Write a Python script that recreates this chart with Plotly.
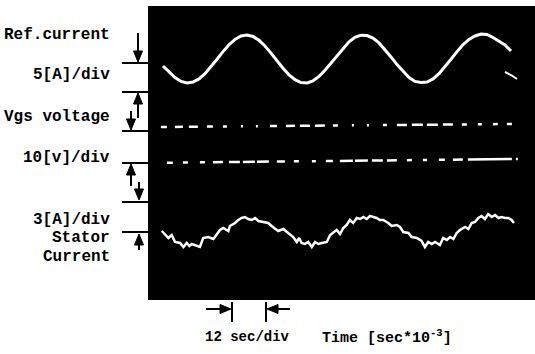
import plotly.graph_objects as go

# ---------------- data (time in ms, amplitude in screen divisions*10) ----------------
ref_t = [5, 7, 9, 11, 13, 15, 17, 19, 21, 23, 25, 27, 29, 31, 33, 35, 37, 39, 41, 43,
         45, 47, 49, 51, 53, 55, 57, 59, 61, 63, 65, 67, 69, 71, 73, 75, 77, 79, 81, 83,
         85, 87, 89, 91, 93, 95, 97, 99, 101, 103, 105, 107, 109, 111, 113, 115, 117, 119, 121]
ref_i = [23.4, 22.8, 22.25, 21.86, 21.7, 21.79, 22.11, 22.64, 23.32, 24.08, 24.84, 25.53,
         26.06, 26.4, 26.5, 26.35, 25.97, 25.4, 24.69, 23.92, 23.18, 22.52, 22.03, 21.75,
         21.71, 21.92, 22.36, 22.97, 23.7, 24.47, 25.2, 25.82, 26.26, 26.48, 26.45, 26.19,
         25.71, 25.06, 24.31, 23.54, 22.84, 22.25, 21.86, 21.75, 21.79, 22.11, 22.64, 23.32,
         24.08, 24.84, 25.53, 26.06, 26.4, 26.6, 26.55, 26.25, 25.9, 25.5, 24.9]
glitch_t = [119, 121, 123]
glitch_i = [22.8, 22.5, 22.1]

vgs_t = [4.3, 121.3]
vgs_v = [17.3, 17.6]

gate_t = [6.3, 123.3]
gate_v = [13.73, 14.1]

stator_t = [4.6, 6.2, 6.8, 7.9, 9.0, 10.7, 11.8, 12.9, 13.8, 14.6, 15.7, 17.3, 18.4, 20.1,
            21.8, 22.9, 24.0, 25.1, 26.8, 27.3, 29.0, 30.1, 31.2, 32.3, 33.4, 34.6, 35.7,
            36.8, 38.4, 40.1, 41.2, 42.3, 43.4, 45.1, 46.2, 47.3, 48.4, 49.6, 50.4, 51.2,
            52.3, 53.4, 54.6, 55.7, 56.8, 57.9, 59.6, 60.7, 61.8, 62.9, 64.0, 65.1, 66.2,
            67.3, 68.4, 69.6, 70.7, 71.8, 72.9, 74.0, 75.1, 76.2, 77.3, 78.4, 80.1, 81.2,
            82.9, 84.0, 85.1, 86.8, 87.9, 89.6, 91.2, 92.3, 93.4, 94.6, 95.7, 97.3, 98.4,
            99.6, 100.7, 101.8, 102.9, 104.0, 105.7, 106.8, 107.9, 109.0, 110.1, 111.2,
            112.3, 113.4, 114.6, 115.7, 116.8, 117.9, 119.0, 120.1, 121.2, 122.0]
stator_i = [6.9, 6.4, 6.2, 6.5, 5.8, 5.7, 5.3, 5.7, 5.4, 5.6, 5.5, 5.3, 6.2, 6.3,
            6.1, 6.6, 7.0, 7.2, 6.9, 7.4, 7.7, 8.0, 8.2, 8.3, 8.1, 8.0, 8.2,
            7.9, 7.8, 7.7, 7.4, 7.1, 6.9, 7.1, 6.8, 6.5, 6.3, 5.8, 6.2, 5.7,
            5.6, 5.8, 5.3, 5.8, 5.6, 5.7, 5.8, 6.5, 6.8, 7.0, 6.6, 7.2, 7.5,
            8.0, 7.7, 8.2, 8.1, 8.3, 8.1, 8.4, 8.3, 8.2, 8.0, 8.0, 7.7, 7.4,
            7.5, 7.3, 6.8, 6.7, 6.3, 6.2, 5.9, 5.3, 5.8, 5.6, 5.8, 5.5, 6.2,
            6.0, 6.3, 6.1, 6.7, 7.0, 7.3, 7.1, 7.7, 7.8, 8.2, 8.4,
            8.1, 8.6, 8.3, 8.5, 8.2, 8.3, 8.2, 8.2, 8.0, 7.7]

left_labels = ["Ref.current", "5[A]/div", "Vgs voltage", "10[v]/div", "3[A]/div", "Stator", "Current"]
x_label = "Time [sec*10<sup>-3</sup>]"
scale_label = "12 sec/div"

# ---------------- figure ----------------
W, H = 535, 354
def px(x):
    return x / W
def py(y):
    return 1 - y / H

fig = go.Figure()
fig.add_trace(go.Scatter(x=ref_t, y=ref_i, mode="lines", line=dict(color="white", width=3), hoverinfo="skip"))
fig.add_trace(go.Scatter(x=glitch_t, y=glitch_i, mode="lines", line=dict(color="white", width=2), hoverinfo="skip"))
fig.add_trace(go.Scatter(x=vgs_t, y=vgs_v, mode="lines",
                         line=dict(color="white", width=2.5,
                                   dash="6px,8px,8px,6px,9px,9px,6px,10px,4px,14px,2px,13px,2px,12px,7px,9px,9px,5px,10px,5px,10px,8px,5px,14px,2px,13px,2px,14px,4px,10px,10px,5px,11px,4px,11px,5px,10px,9px,5px,11px,4px,11px,5px,9px,5px,20px"),
                         hoverinfo="skip"))
fig.add_trace(go.Scatter(x=gate_t, y=gate_v, mode="lines",
                         line=dict(color="white", width=2.5,
                                   dash="6px,10px,5px,12px,5px,8px,10px,6px,11px,3px,12px,2px,12px,8px,8px,9px,5px,13px,4px,10px,7px,7px,13px,2px,13px,4px,11px,4px,10px,10px,5px,11px,4px,12px,6px,8px,10px,5px,44px,4px,2px,10px"),
                         hoverinfo="skip"))
fig.add_trace(go.Scatter(x=stator_t, y=stator_i, mode="lines", line=dict(color="white", width=2.5), hoverinfo="skip"))

shapes = []
def hline(x0, x1, y):
    shapes.append(dict(type="line", xref="paper", yref="paper", x0=px(x0), x1=px(x1), y0=py(y), y1=py(y),
                       line=dict(color="black", width=2)))
def vline(x, y0, y1):
    shapes.append(dict(type="line", xref="paper", yref="paper", x0=px(x), x1=px(x), y0=py(y0), y1=py(y1),
                       line=dict(color="black", width=2)))
def tri(p1, p2, p3):
    path = "M {},{} L {},{} L {},{} Z".format(px(p1[0]), py(p1[1]), px(p2[0]), py(p2[1]), px(p3[0]), py(p3[1]))
    shapes.append(dict(type="path", xref="paper", yref="paper", path=path,
                       fillcolor="black", line=dict(color="black", width=1)))

# tick marks left of the panel
for yy in [63, 92, 131, 163, 202, 232]:
    hline(122, 148, yy)

# vertical arrows (x, tip, tail)
HL, HW = 11, 4.5
def varrow(x, tip, tail):
    d = 1 if tail < tip else -1  # +1: pointing down
    base = tip - d * HL
    vline(x, tail, base)
    tri((x, tip), (x - HW, base), (x + HW, base))

varrow(138, 62, 33)
varrow(138, 93, 118)
varrow(131, 130, 111)
varrow(131, 164, 186)
varrow(139, 200, 182)
varrow(139, 234, 250)

# bottom scale bars and arrows
vline(232, 302, 322)
vline(266, 302, 322)
hline(206, 221, 309)
tri((231, 309), (220, 304.5), (220, 313.5))
hline(277, 290, 309)
tri((267, 309), (278, 304.5), (278, 313.5))

annotations = []
font = dict(family="Liberation Mono", size=16, color="black")
label_y = [35, 75, 117, 158, 220, 238, 257]
for txt, yy in zip(left_labels, label_y):
    annotations.append(dict(xref="paper", yref="paper", x=px(112), y=py(yy), text="<b>" + txt + "</b>",
                            showarrow=False, xanchor="right", yanchor="middle", font=font))
annotations.append(dict(xref="paper", yref="paper", x=px(203), y=py(337), text="<b>" + scale_label + "</b>",
                        showarrow=False, xanchor="left", yanchor="middle", font=dict(family="Liberation Mono", size=14, color="black")))
annotations.append(dict(xref="paper", yref="paper", x=px(320), y=py(337), text="<b>" + x_label + "</b>",
                        showarrow=False, xanchor="left", yanchor="middle", font=dict(family="Liberation Mono", size=15, color="black")))

fig.update_layout(
    width=W, height=H, margin=dict(l=0, r=0, t=0, b=0),
    paper_bgcolor="white", plot_bgcolor="black", showlegend=False,
    xaxis=dict(domain=[px(148), 1], range=[0, 129], visible=False, fixedrange=True),
    yaxis=dict(domain=[py(300), py(6)], range=[0, 29.4], visible=False, fixedrange=True),
    shapes=shapes, annotations=annotations,
)

fig.write_html("out.html", config={"displayModeBar": False})
